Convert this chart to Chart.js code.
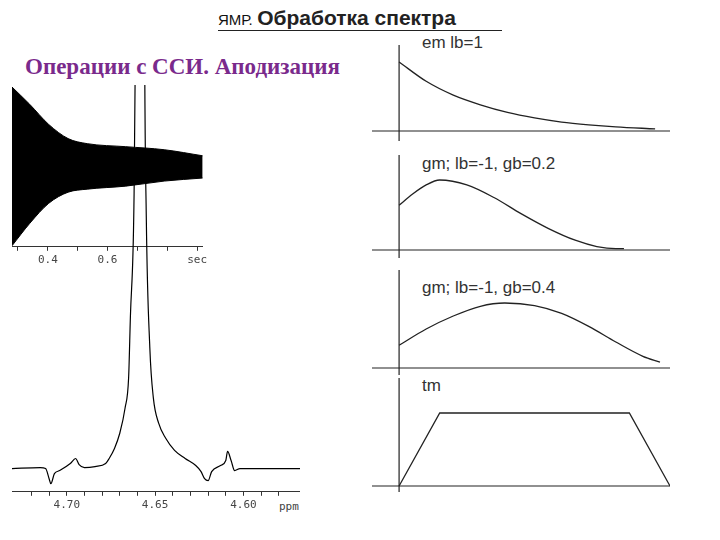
<!DOCTYPE html>
<html><head><meta charset="utf-8">
<script src="https://cdn.jsdelivr.net/npm/chart.js@4"></script>
<style>
body{margin:0;width:720px;height:540px;background:#fff;position:relative;overflow:hidden;font-family:"Liberation Sans",Arial,sans-serif}
canvas{position:absolute}
.t{position:absolute;white-space:nowrap}
.lb{font-size:17px;color:#333}
</style></head><body>
<div class="t" style="left:218px;top:6px;color:#111;border-bottom:1px solid #222;width:284px;padding-bottom:0">
  <span style="font-size:15px">ЯМР.</span> <span style="font-size:21px;font-weight:bold;color:#222">Обработка спектра</span></div>
<div class="t" style="left:25px;top:54px;font:bold 23px 'Liberation Serif',serif;color:#7a2a8c">Операции с ССИ. Аподизация</div>
<div class="t lb" style="left:422px;top:33px">em lb=1</div>
<div class="t lb" style="left:422px;top:154px">gm; lb=-1, gb=0.2</div>
<div class="t lb" style="left:422px;top:278px">gm; lb=-1, gb=0.4</div>
<div class="t lb" style="left:422px;top:376px">tm</div>
<div class="t" style="left:279px;top:500px;font:11px 'DejaVu Sans Mono',monospace;color:#444">ppm</div>

<canvas id="fid" style="left:12px;top:85px" width="198" height="185"></canvas>
<canvas id="spec" style="left:12px;top:85px" width="288" height="430"></canvas>
<canvas id="p1" style="left:372px;top:45px" width="298" height="96"></canvas>
<canvas id="p2" style="left:372px;top:155px" width="298" height="103"></canvas>
<canvas id="p3" style="left:372px;top:270px" width="298" height="105"></canvas>
<canvas id="p4" style="left:372px;top:378px" width="298" height="114"></canvas>
<script>
// FID envelope (time, sec / amplitude)
const fidTime = [0.28, 0.339, 0.403, 0.468, 0.532, 0.661, 0.79, 0.919];
const fidUpper = [78, 61, 41, 27, 22, 19, 16, 10];
const fidLower = [-79, -57, -37, -26, -23, -20, -15, -12];

// spectrum (ppm / intensity)
const specPpm = [4.731, 4.715, 4.712, 4.710, 4.709, 4.707, 4.704, 4.698, 4.695, 4.693, 4.690, 4.684, 4.678, 4.676, 4.673, 4.670, 4.667, 4.665, 4.664, 4.662, 4.661, 4.658, 4.656, 4.655, 4.653, 4.651, 4.648, 4.644, 4.639, 4.633, 4.627, 4.624, 4.622, 4.620, 4.618, 4.613, 4.610, 4.609, 4.607, 4.605, 4.602, 4.568];
const specInt = [0, 1, 0, -10, -15, -5, -2, 5, 10, 4, 1, 2, 5, 10, 20, 35, 60, 90, 150, 260, 450, 2000, 450, 250, 120, 70, 45, 30, 18, 10, 3, -3, -10, -12, -3, 3, 8, 17, 8, -2, 0, 0];
const specTicks = [4.72, 4.71, 4.70, 4.69, 4.68, 4.67, 4.66, 4.65, 4.64, 4.63, 4.62, 4.61, 4.60, 4.59, 4.58];

// window functions
const emX = [0, 0.1, 0.2, 0.3, 0.4, 0.5, 0.6, 0.7, 0.8, 0.945];
const emY = [1, 0.72, 0.52, 0.38, 0.27, 0.19, 0.13, 0.09, 0.06, 0.03];
const gm2X = [0, 0.05, 0.1, 0.15, 0.25, 0.35, 0.45, 0.55, 0.65, 0.73, 0.8, 0.83];
const gm2Y = [0.64, 0.8, 0.93, 1, 0.93, 0.75, 0.52, 0.31, 0.14, 0.05, 0.02, 0.02];
const gm4X = [0, 0.1, 0.2, 0.3, 0.39, 0.5, 0.6, 0.7, 0.8, 0.9, 0.963];
const gm4Y = [0.35, 0.6, 0.8, 0.95, 1, 0.96, 0.84, 0.64, 0.4, 0.18, 0.09];
const tmX = [0, 0.15, 0.85, 1.0];
const tmY = [0, 1, 1, 0];

const pts = (xs, ys) => xs.map((x, i) => ({ x: x, y: ys[i] }));
const tickFont = { family: "'DejaVu Sans Mono', monospace", size: 11 };

new Chart(document.getElementById('fid'), {
    type: 'line',
    data: { datasets: [
        { data: pts(fidTime, fidUpper), borderColor: '#000', borderWidth: 1, pointRadius: 0, cubicInterpolationMode: 'monotone', fill: '+1', backgroundColor: '#000' },
        { data: pts(fidTime, fidLower), borderColor: '#000', borderWidth: 1, pointRadius: 0, cubicInterpolationMode: 'monotone' }
    ] },
    options: {
        responsive: false, animation: false, layout: { padding: 0 },
        plugins: { legend: { display: false }, tooltip: { enabled: false } },
        scales: {
            x: { type: 'linear', min: 0.28, max: 0.919,
                 afterBuildTicks: s => { s.ticks = [0.3, 0.4, 0.5, 0.6, 0.7, 0.8, 0.9].map(v => ({ value: v })); },
                 ticks: { font: tickFont, color: '#444', maxRotation: 0, callback: v => ({ 0.4: '0.4', 0.6: '0.6', 0.9: 'sec' })[Math.round(v * 10) / 10] || '' },
                 grid: { drawOnChartArea: false, tickLength: 4, color: '#333' }, border: { color: '#333' } },
            y: { display: false, min: -80, max: 80 }
        }
    }
});

new Chart(document.getElementById('spec'), {
    type: 'line',
    data: { datasets: [{ data: pts(specPpm, specInt), borderColor: '#000', borderWidth: 1.2, pointRadius: 0, cubicInterpolationMode: 'monotone' }] },
    options: {
        responsive: false, animation: false, layout: { padding: 0 },
        plugins: { legend: { display: false }, tooltip: { enabled: false } },
        scales: {
            x: { type: 'linear', reverse: true, min: 4.568, max: 4.731,
                 afterBuildTicks: s => { s.ticks = specTicks.map(v => ({ value: v })); },
                 ticks: { font: tickFont, color: '#444', maxRotation: 0, autoSkip: false,
                          callback: v => [4.70, 4.65, 4.60].some(t => Math.abs(t - v) < 1e-6) ? v.toFixed(2) : '' },
                 grid: { drawOnChartArea: false, tickLength: 4, color: '#333' }, border: { color: '#333' } },
            y: { display: false, min: -23, max: 380 }
        }
    }
});

const axesPlugin = {
    id: 'axes0',
    afterDatasetsDraw(chart) {
        const { ctx, chartArea: a, scales: { x, y } } = chart;
        const x0 = x.getPixelForValue(0), y0 = y.getPixelForValue(0);
        ctx.save();
        ctx.strokeStyle = '#222'; ctx.lineWidth = 1.2;
        ctx.beginPath();
        ctx.moveTo(a.left, y0); ctx.lineTo(a.right, y0);
        ctx.moveTo(x0, a.top); ctx.lineTo(x0, a.bottom);
        ctx.stroke();
        ctx.restore();
    }
};

function panel(id, xs, ys, ymin, ymax) {
    new Chart(document.getElementById(id), {
        type: 'line',
        data: { datasets: [{ data: pts(xs, ys), borderColor: '#222', borderWidth: 1.3, pointRadius: 0, cubicInterpolationMode: id === 'p4' ? 'default' : 'monotone', tension: id === 'p4' ? 0 : 0.4 }] },
        options: {
            responsive: false, animation: false, layout: { padding: 0 },
            plugins: { legend: { display: false }, tooltip: { enabled: false } },
            scales: { x: { type: 'linear', display: false, min: -0.1, max: 1.0 }, y: { display: false, min: ymin, max: ymax } }
        },
        plugins: [axesPlugin]
    });
}
panel('p1', emX, emY, -0.145, 1.246);
panel('p2', gm2X, gm2Y, -0.114, 1.357);
panel('p3', gm4X, gm4Y, -0.108, 1.508);
panel('p4', tmX, tmY, -0.082, 1.479);
</script>
</body></html>
